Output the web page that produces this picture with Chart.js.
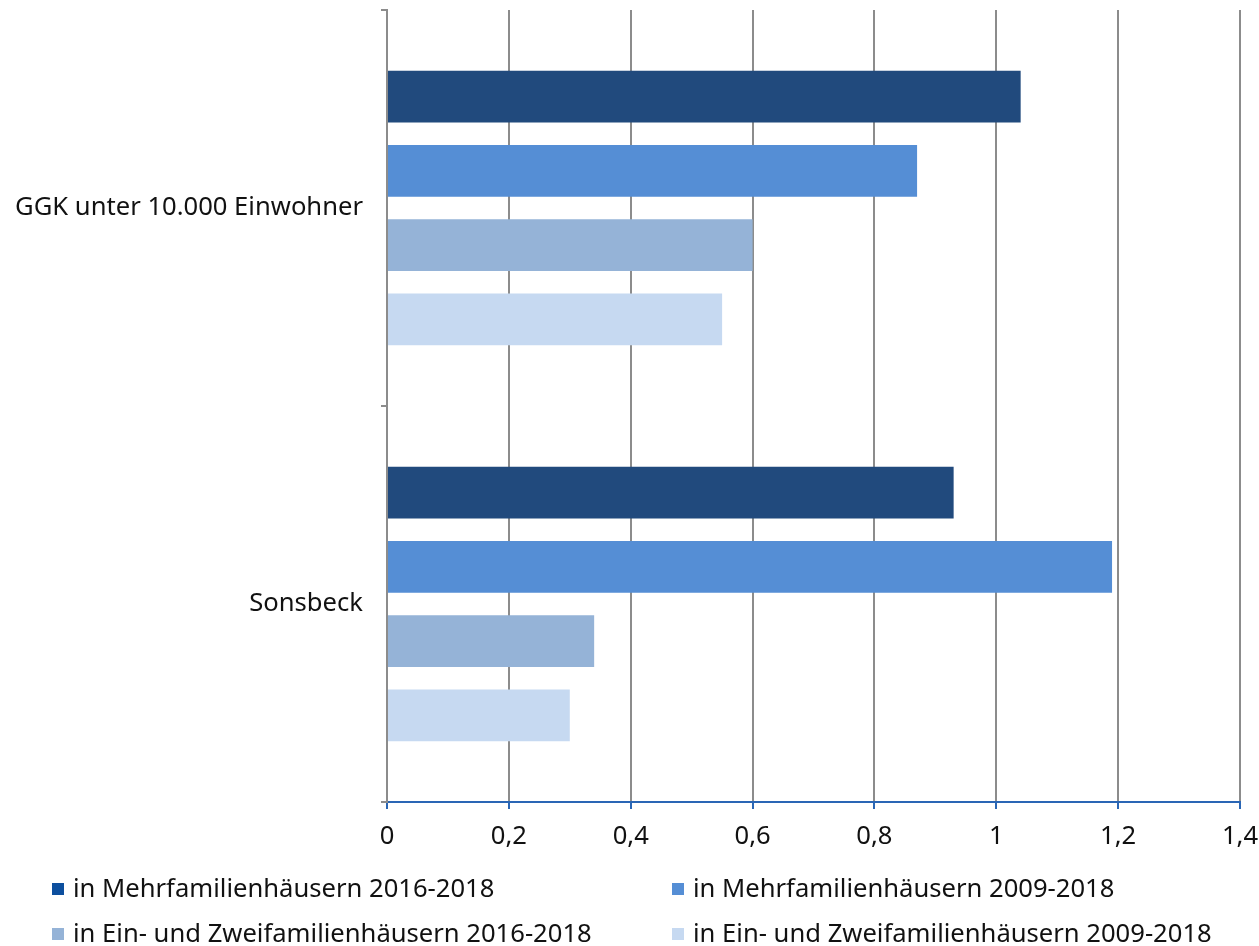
<!DOCTYPE html>
<html>
<head>
<meta charset="utf-8">
<script src="https://cdn.jsdelivr.net/npm/chart.js@4"></script>
<style>
  body { margin: 0; background: #fff; font-family: "Noto Sans", sans-serif; }
  #wrap { position: relative; width: 1259px; height: 946px; }
  .leg { position: absolute; font-size: 25.6px; color: #111; white-space: nowrap; line-height: 28px; }
  .leg span { display: inline-block; width: 12px; height: 12px; margin-right: 9px; vertical-align: 2px; }
</style>
</head>
<body>
<div id="wrap">
  <canvas id="myChart" width="1259" height="946"></canvas>
  <div class="leg" style="left:52px; top:874px"><span style="background:#0d4f9e"></span>in Mehrfamilienhäusern 2016-2018</div>
  <div class="leg" style="left:672px; top:874px"><span style="background:#558ed5"></span>in Mehrfamilienhäusern 2009-2018</div>
  <div class="leg" style="left:52px; top:919px"><span style="background:#95b3d7"></span>in Ein- und Zweifamilienhäusern 2016-2018</div>
  <div class="leg" style="left:672px; top:919px"><span style="background:#c6d9f1"></span>in Ein- und Zweifamilienhäusern 2009-2018</div>
</div>
<script>
const categories = ['GGK unter 10.000 Einwohner', 'Sonsbeck'];
const mfh1618 = [1.04, 0.93];
const mfh0918 = [0.87, 1.19];
const ezfh1618 = [0.60, 0.34];
const ezfh0918 = [0.55, 0.30];

const ctx = document.getElementById('myChart');
new Chart(ctx, {
  type: 'bar',
  data: {
    labels: categories,
    datasets: [
      { label: 'in Mehrfamilienhäusern 2016-2018', data: mfh1618, backgroundColor: '#214a7d' },
      { label: 'in Mehrfamilienhäusern 2009-2018', data: mfh0918, backgroundColor: '#558ed5' },
      { label: 'in Ein- und Zweifamilienhäusern 2016-2018', data: ezfh1618, backgroundColor: '#95b3d7' },
      { label: 'in Ein- und Zweifamilienhäusern 2009-2018', data: ezfh0918, backgroundColor: '#c6d9f1' }
    ]
  },
  options: {
    indexAxis: 'y',
    responsive: false,
    animation: false,
    categoryPercentage: 0.75,
    barPercentage: 0.70,
    layout: { padding: { top: 10, right: 19, bottom: 94, left: 0 } },
    plugins: { legend: { display: false }, tooltip: { enabled: false } },
    scales: {
      x: {
        min: 0,
        max: 1.4,
        afterFit: (s) => { s.height = 50; s.paddingLeft = 0; s.paddingRight = 0; },
        ticks: {
          stepSize: 0.2,
          color: '#111',
          padding: 12,
          font: { family: 'Noto Sans', size: 25.6 },
          callback: (v) => String(Math.round(v * 10) / 10).replace('.', ',')
        },
        grid: { color: '#8c8c8c', lineWidth: 2, tickColor: '#2a66b5', tickLength: 7 },
        border: { color: '#2a66b5', width: 2 }
      },
      y: {
        afterFit: (s) => { s.width = 387; s.paddingTop = 0; s.paddingBottom = 0; },
        ticks: {
          color: '#111',
          padding: 18,
          font: { family: 'Noto Sans', size: 25.6 }
        },
        grid: { offset: true, drawOnChartArea: false, color: '#8c8c8c', lineWidth: 2, tickLength: 6 },
        border: { color: '#8c8c8c', width: 2 }
      }
    }
  }
});
</script>
</body>
</html>
